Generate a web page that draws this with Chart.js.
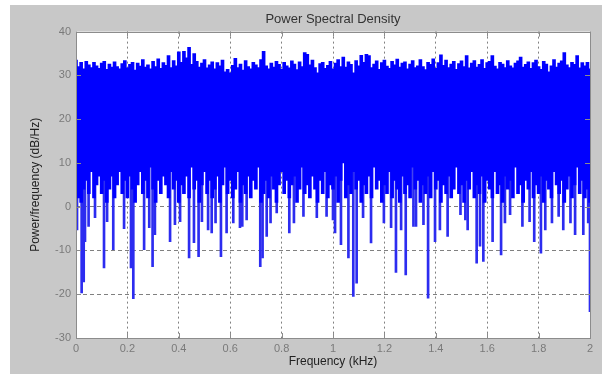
<!DOCTYPE html>
<html>
<head>
<meta charset="utf-8">
<script src="https://cdn.jsdelivr.net/npm/chart.js@4.4.1/dist/chart.umd.min.js"></script>
<style>
    html, body { margin: 0; padding: 0; background: #ffffff; }
    #fig { position: absolute; left: 10px; top: 5px; width: 592px; height: 369px; background: #c8c8c8; }
    canvas { display: block; }
</style>
</head>
<body>
<div id="fig"><canvas id="psdChart" width="592" height="369"></canvas></div>
<script>
// PSD estimate, one bin every 0.01 kHz (0 .. 2 kHz)
const bandHigh = [
    33.5, 32, 33, 31.5, 33.2, 32.4, 31.8, 33, 32.2, 31.6,
    32.8, 33.2, 31.4, 32.6, 31.9, 33.1, 32, 31.5, 32.7, 33.4,
    31.7, 32.5, 33, 31.2, 32.8, 32.1, 33.6, 31.9, 32.4, 31.5,
    33.2, 32, 33.8, 31.6, 32.9, 32.3, 34.5, 31.8, 33.4, 32.2,
    35.4, 33, 35.5, 34, 36.4, 32.5, 35, 33.2, 31.9, 32.8,
    33.6, 31.7, 32.4, 33.1, 31.5, 32.9, 32.2, 33.5, 30.8, 31.4,
    30.6, 32.3, 33.9, 31.8, 32.6, 31.2, 33.4, 32, 31.5, 33,
    32.4, 31.8, 33.6, 35.5, 32.2, 31.5, 32.8, 31.9, 33.2, 32.5,
    31.4, 33, 32.2, 31.7, 33.3, 32.6, 31.3, 33.1, 32, 35.2,
    34.8, 32.4, 33.5, 31.8, 30.6, 32.7, 33, 31.6, 32.3, 33.2,
    31.5, 32.8, 33.6, 32, 34.2, 31.9, 33.1, 32.5, 30.6, 33.4,
    32.2, 34.6, 33, 34.8, 34.5, 31.8, 32.6, 33.3, 31.4, 32.9,
    33.5, 32.1, 31.6, 33.2, 32.4, 33.7, 31.9, 32.8, 33.1, 31.5,
    32.6, 33.4, 31.8, 32.2, 33.6, 32, 31.3, 33, 32.5, 33.8,
    31.6, 32.9, 34.7, 32.3, 33.5, 31.8, 32.6, 33.2, 31.4, 32.7,
    33.3, 32, 34.5, 31.7, 32.8, 33.4, 31.9, 32.5, 33.6, 31.6,
    32.9, 33.2, 34.5, 32.1, 31.5, 33, 32.6, 31.8, 33.4, 32.2,
    31.7, 32.8, 33.3, 34.2, 31.9, 32.5, 33.1, 31.6, 32.9, 33.5,
    32, 31.4, 33.2, 32.6, 30.8, 32.2, 33.6, 31.9, 32.8, 33.3,
    35.2, 32.4, 31.8, 33, 32.5, 34.5, 31.7, 32.9, 32.2, 33,
    31.5
];
const bandLow = [
    5, 2, 1, 4, 6, 3, 8, 2, 5, 7,
    3, 6, 1, 4, 7, 2, 5, 8, 3, 6,
    2, 7, 4, 1, 5, 8, 3, 6, 2, 9,
    4, 1, 6, 3, 7, 5, 2, 8, 4, 6,
    1, 5, 3, 7, 2, 9, 4, 6, 1, 5,
    8, 3, 6, 2, 4, 7, 1, 5, 9, 3,
    6, 2, 4, 8, 1, 5, 3, 7, 2, 6,
    4, 9, 1, 3, 6, 2, 7, 4, 1, 5,
    8, 3, 6, 2, 5, 7, 1, 4, 9, 3,
    5, 2, 7, 4, 1, 6, 3, 8, 2, 5,
    4, 7, 1, 6, 10, 2, 5, 3, 8, 4,
    6, 1, 5, 3, 7, 2, 9, 4, 6, 1,
    5, 3, 8, 2, 6, 4, 1, 7, 3, 5,
    2, 9, 4, 6, 1, 5, 3, 7, 2, 8,
    4, 6, 1, 5, 3, 7, 2, 4, 9, 3,
    5, 1, 6, 4, 8, 2, 5, 3, 7, 1,
    6, 4, 2, 8, 3, 5, 1, 7, 4, 6,
    2, 9, 3, 5, 1, 6, 4, 8, 2, 5,
    3, 7, 1, 6, 4, 2, 8, 5, 3, 6,
    1, 4, 7, 2, 5, 9, 3, 6, 2, 4,
    1
];
const binFreq = bandHigh.map((v, i) => i / 100);

// deep dips under the band (kHz, dB/Hz)
const spikeFreq = [
    0.004, 0.022, 0.030, 0.035, 0.049, 0.074, 0.109, 0.121, 0.145, 0.187,
    0.214, 0.223, 0.265, 0.285, 0.298, 0.307, 0.366, 0.385, 0.405, 0.440,
    0.459, 0.477, 0.490, 0.514, 0.528, 0.543, 0.564, 0.586, 0.612, 0.638,
    0.647, 0.664, 0.717, 0.726, 0.742, 0.757, 0.781, 0.830, 0.848, 0.885,
    0.937, 0.975, 1.000, 1.008, 1.031, 1.060, 1.079, 1.092, 1.117, 1.148,
    1.198, 1.226, 1.245, 1.265, 1.283, 1.313, 1.323, 1.352, 1.370, 1.397,
    1.416, 1.446, 1.496, 1.515, 1.524, 1.559, 1.572, 1.585, 1.621, 1.654,
    1.669, 1.689, 1.737, 1.765, 1.783, 1.809, 1.826, 1.852, 1.878, 1.896,
    1.924, 1.942, 1.974, 1.993, 2.000
];
const spikeDb = [
    -5.3, -19.7, -17.2, -8, -4.5, -2.5, -14, -3.4, -9.8, -5,
    -14, -21, -9.8, -4.8, -13.7, -6.4, -8, -4.1, -3.4, -11.7,
    -8.2, -11.4, -3.4, -5.3, -6, -3.7, -11.4, -6, -3.7, -4.8,
    -4.5, -3, -13.7, -11.7, -6.8, -3.7, -1.4, -6, -3.7, -2.2,
    -2.5, -2.2, -3, -6, -8.7, -11.7, -20.5, -17.5, -2.5, -8.3,
    -3.7, -4.8, -15, -5.3, -15.6, -4.5, -4.5, -4.1, -20.9, -8,
    -5.3, -6.8, -1.8, -3, -5.3, -12.9, -9, -12.5, -8, -11,
    -3.7, -1.8, -4.5, -3.4, -8, -10.6, -5.3, -3.7, -2.2, -5.3,
    -3.7, -6.4, -6.4, -3.7, -24
];
const spikeTop = 10;

const xTicks = [0, 0.2, 0.4, 0.6, 0.8, 1, 1.2, 1.4, 1.6, 1.8, 2];
const yTicks = [-30, -20, -10, 0, 10, 20, 30, 40];

const AXIS_GRAY = '#8c8c8c';
const TICK_TEXT = '#7a7a7a';

// white axes background, then MATLAB style box + inward tick marks on top
const boxPlugin = {
    id: 'matlabBox',
    beforeDraw(chart) {
        const { ctx, chartArea: a } = chart;
        ctx.save();
        ctx.fillStyle = '#ffffff';
        ctx.fillRect(a.left, a.top, a.right - a.left, a.bottom - a.top);
        ctx.restore();
    },
    afterDatasetsDraw(chart) {
        const { ctx, chartArea: a, scales } = chart;
        ctx.save();
        ctx.strokeStyle = AXIS_GRAY;
        ctx.lineWidth = 1;
        ctx.setLineDash([]);
        ctx.strokeRect(Math.round(a.left) + 0.5, Math.round(a.top) + 0.5,
            Math.round(a.right - a.left), Math.round(a.bottom - a.top));
        ctx.beginPath();
        xTicks.forEach(v => {
            const x = Math.round(scales.x.getPixelForValue(v)) + 0.5;
            ctx.moveTo(x, a.bottom); ctx.lineTo(x, a.bottom - 5);
            ctx.moveTo(x, a.top); ctx.lineTo(x, a.top + 5);
        });
        yTicks.forEach(v => {
            const y = Math.round(scales.y.getPixelForValue(v)) + 0.5;
            ctx.moveTo(a.left, y); ctx.lineTo(a.left + 5, y);
            ctx.moveTo(a.right, y); ctx.lineTo(a.right - 5, y);
        });
        ctx.stroke();
        ctx.restore();
    }
};

new Chart(document.getElementById('psdChart'), {
    type: 'bar',
    data: {
        datasets: [
            {
                label: 'band',
                data: binFreq.map((f, i) => ({ x: f, y: [bandLow[i], bandHigh[i]] })),
                backgroundColor: '#0000ff',
                barThickness: 3,
                borderWidth: 0
            },
            {
                label: 'dips',
                data: spikeFreq.map((f, i) => ({ x: f, y: [spikeDb[i], spikeTop] })),
                backgroundColor: '#2c2cf0',
                barThickness: 2,
                borderWidth: 0
            }
        ]
    },
    options: {
        responsive: false,
        animation: false,
        grouped: false,
        layout: { padding: { left: 0, right: 12, top: 0, bottom: 0 } },
        plugins: {
            legend: { display: false },
            tooltip: { enabled: false },
            title: {
                display: true,
                text: 'Power Spectral Density',
                fullSize: false,
                color: '#333333',
                font: { family: 'Liberation Sans', size: 13, weight: 'normal' },
                padding: { top: 7, bottom: 4 }
            }
        },
        scales: {
            x: {
                type: 'linear',
                min: 0,
                max: 2,
                offset: false,
                afterFit: (s) => { s.height = 36; },
                afterBuildTicks: (s) => { s.ticks = xTicks.map(v => ({ value: v })); },
                border: { display: false, dash: [2, 3] },
                grid: {
                    offset: false,
                    drawTicks: false,
                    color: (c) => (c.tick.value === 0 || c.tick.value === 2) ? 'rgba(0,0,0,0)' : '#808080',
                    lineWidth: 1
                },
                ticks: {
                    color: TICK_TEXT,
                    padding: 4,
                    maxRotation: 0,
                    font: { family: 'Liberation Sans', size: 11 },
                    callback: (v) => String(v)
                },
                title: {
                    display: true,
                    text: 'Frequency (kHz)',
                    color: '#222222',
                    font: { family: 'Liberation Sans', size: 12 },
                    padding: { top: 0, bottom: 5 }
                }
            },
            y: {
                min: -30,
                max: 40,
                afterFit: (s) => { s.width = 66; },
                afterBuildTicks: (s) => { s.ticks = yTicks.map(v => ({ value: v })); },
                border: { display: false, dash: [4, 3] },
                grid: {
                    drawTicks: false,
                    color: (c) => (c.tick.value === -30 || c.tick.value === 40) ? 'rgba(0,0,0,0)' : '#808080',
                    lineWidth: 1
                },
                ticks: {
                    color: TICK_TEXT,
                    padding: 5,
                    font: { family: 'Liberation Sans', size: 11 }
                },
                title: {
                    display: true,
                    text: 'Power/frequency (dB/Hz)',
                    color: '#222222',
                    font: { family: 'Liberation Sans', size: 12 },
                    padding: { top: 18, bottom: 0 }
                }
            }
        }
    },
    plugins: [boxPlugin]
});
</script>
</body>
</html>
